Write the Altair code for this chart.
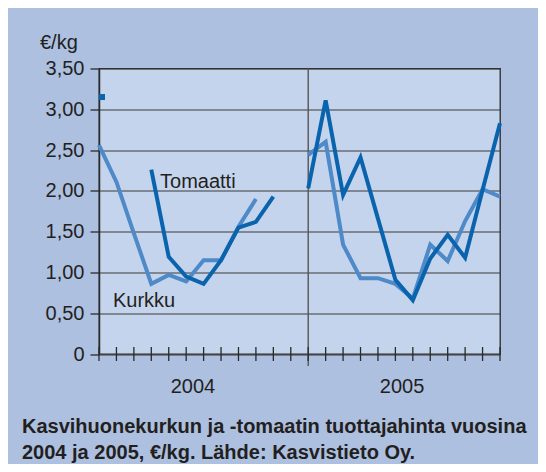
import altair as alt
import pandas as pd

# ---- data ----
months = list(range(24))                      # Jan 2004 .. Dec 2005
years = ["2004", "2005"]
year_centers = [5.5, 17.5]
tomaatti = [3.15, None, None, 2.26, 1.19, 0.95, 0.86, 1.15, 1.55, 1.62, 1.93, None,
            2.03, 3.11, 1.95, 2.41, 1.66, 0.91, 0.66, 1.17, 1.46, 1.18, 2.01, 2.83]
kurkku = [2.56, 2.11, 1.48, 0.86, 0.97, 0.89, 1.15, 1.15, 1.56, 1.90, None, None,
          2.44, 2.60, 1.34, 0.93, 0.93, 0.86, 0.68, 1.34, 1.14, 1.63, 2.02, 1.93]
y_ticks = [0, 0.5, 1.0, 1.5, 2.0, 2.5, 3.0, 3.5]
series_labels = ["Tomaatti", "Kurkku"]
label_x = [3.5, 0.8]
label_y = [2.03, 0.58]
title_lines = ["Kasvihuonekurkun ja -tomaatin tuottajahinta vuosina",
               "2004 ja 2005, €/kg. Lähde: Kasvistieto Oy."]
unit_label = "€/kg"

C_TOM = "#0a64ad"
C_KUR = "#4e89c8"
INK = "#231f20"
FONT = "Liberation Sans"

W, H = 401, 285.5


def segments(name, vals):
    rows, seg, prev_none = [], 0, True
    for m, v in zip(months, vals):
        if v is None:
            prev_none = True
            continue
        if prev_none:
            seg += 1
            prev_none = False
        rows.append({"m": m, "value": v, "series": name, "seg": f"{name}{seg}"})
    df = pd.DataFrame(rows)
    counts = df.groupby("seg")["m"].transform("count")
    return df[counts > 1], df[counts == 1]


tom_lines, tom_single = segments("Tomaatti", tomaatti)
kur_lines, kur_single = segments("Kurkku", kurkku)

xs = alt.Scale(domain=[0, 23], nice=False, zero=False)
ys = alt.Scale(domain=[0, 3.5], nice=False)

base_y = alt.Y(
    "value:Q", scale=ys,
    axis=alt.Axis(values=y_ticks,
                  labelExpr="datum.value == 0 ? '0' : replace(format(datum.value, '.2f'), '.', ',')",
                  tickSize=9, tickColor="#2a2a2a", tickWidth=1.3,
                  domainColor="#2a2a2a", domainWidth=1.5,
                  grid=True, gridColor="#3a3a3a", gridWidth=1.2,
                  labelFont=FONT, labelFontSize=20, labelColor=INK, labelPadding=6,
                  title=None),
)

grid_df = pd.DataFrame({"value": y_ticks})
grid = alt.Chart(grid_df).mark_rule(opacity=0).encode(y=base_y)

month_df = pd.DataFrame({"m": months})
ticks = alt.Chart(month_df).mark_rule(color="#2a2a2a", strokeWidth=1.3).encode(
    x=alt.X("m:Q", scale=xs, axis=None),
    y=alt.value(H - 7), y2=alt.value(H + 7),
)

div_df = pd.DataFrame({"m": [months[12]]})
divider = alt.Chart(div_df).mark_rule(color="#555555", strokeWidth=1.4).encode(
    x=alt.X("m:Q", scale=xs, axis=None),
    y=alt.value(0), y2=alt.value(H + 12),
)


def line_layer(df, color):
    return alt.Chart(df).mark_line(color=color, strokeWidth=4, strokeJoin="miter",
                                   strokeCap="butt").encode(
        x=alt.X("m:Q", scale=xs, axis=None),
        y=alt.Y("value:Q", scale=ys),
        detail="seg:N",
        order="m:Q",
    )


kur_line = line_layer(kur_lines, C_KUR)
tom_line = line_layer(tom_lines, C_TOM)
tom_dot = alt.Chart(tom_single).mark_square(size=36, color=C_TOM, opacity=1, xOffset=3).encode(
    x=alt.X("m:Q", scale=xs, axis=None),
    y=alt.Y("value:Q", scale=ys),
)

lab_df = pd.DataFrame({"t": series_labels, "m": label_x, "value": label_y})
labels = alt.Chart(lab_df).mark_text(align="left", baseline="alphabetic", font=FONT,
                                     fontSize=20, color=INK).encode(
    x=alt.X("m:Q", scale=xs, axis=None),
    y=alt.Y("value:Q", scale=ys),
    text="t:N",
)

yr_df = pd.DataFrame({"t": years, "m": year_centers})
year_text = alt.Chart(yr_df).mark_text(align="center", baseline="alphabetic", font=FONT,
                                       fontSize=20, color=INK, dx=-2).encode(
    x=alt.X("m:Q", scale=xs, axis=None),
    y=alt.value(H + 39),
    text="t:N",
)

unit_df = pd.DataFrame({"t": [unit_label]})
unit = alt.Chart(unit_df).mark_text(align="left", baseline="alphabetic", font=FONT,
                                    fontSize=20, color=INK).encode(
    x=alt.value(-59), y=alt.value(-19.5), text="t:N",
)

t1 = alt.Chart(pd.DataFrame({"t": [title_lines[0]]})).mark_text(
    align="left", baseline="alphabetic", font=FONT, fontSize=20, fontWeight="bold",
    color=INK).encode(x=alt.value(-77), y=alt.value(364), text="t:N")
t2 = alt.Chart(pd.DataFrame({"t": [title_lines[1]]})).mark_text(
    align="left", baseline="alphabetic", font=FONT, fontSize=20, fontWeight="bold",
    color=INK).encode(x=alt.value(-77), y=alt.value(390.5), text="t:N")

chart = alt.layer(
    grid, divider, ticks, kur_line, tom_line, tom_dot, labels, year_text, unit, t1, t2
).properties(
    width=W, height=H,
    autosize=alt.AutoSizeParams(type="none"),
    padding={"left": 91, "top": 60.5, "right": 38, "bottom": 110},
    background="#adc0e0",
).configure_view(
    fill="#c5d4ed", stroke="#2a2a2a", strokeWidth=1.3,
)

chart.save("out.html", embed_options={"renderer": "svg", "actions": False})
